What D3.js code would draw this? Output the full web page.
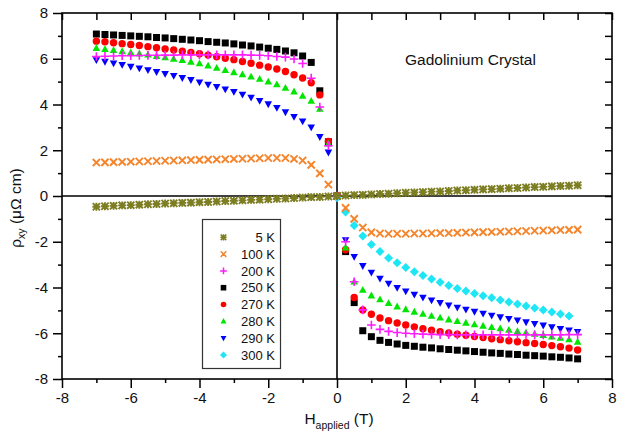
<!DOCTYPE html>
<html>
<head>
<meta charset="utf-8">
<script src="https://cdn.jsdelivr.net/npm/d3@7/dist/d3.min.js"></script>
<style>
  body { margin: 0; background: #fff; }
  text { font-family: "Liberation Sans", Arial, Helvetica, sans-serif; fill: #111; }
</style>
</head>
<body>
<svg id="chart" width="617" height="431"></svg>
<script>
// Applied field (T)
const fieldT = [-7,-6.75,-6.5,-6.25,-6,-5.75,-5.5,-5.25,-5,-4.75,-4.5,-4.25,-4,-3.75,-3.5,-3.25,-3,-2.75,-2.5,-2.25,-2,-1.75,-1.5,-1.25,-1,-0.75,-0.5,-0.25,
  0,
  0.25,0.5,0.75,1,1.25,1.5,1.75,2,2.25,2.5,2.75,3,3.25,3.5,3.75,4,4.25,4.5,4.75,5,5.25,5.5,5.75,6,6.25,6.5,6.75,7];

// Hall resistivity rho_xy (micro-ohm cm) at each temperature
const rho5K = [-0.47,-0.45,-0.43,-0.41,-0.40,-0.38,-0.36,-0.35,-0.33,-0.32,-0.30,-0.29,-0.27,-0.26,-0.24,-0.22,-0.21,-0.19,-0.17,-0.16,-0.14,-0.12,-0.11,-0.09,-0.07,-0.05,-0.04,-0.02,
  0,
  0.02,0.04,0.05,0.07,0.09,0.10,0.12,0.14,0.15,0.17,0.19,0.20,0.22,0.24,0.25,0.27,0.29,0.30,0.32,0.34,0.35,0.37,0.39,0.40,0.42,0.44,0.45,0.47];
const rho100K = [1.46,1.47,1.48,1.49,1.50,1.51,1.52,1.53,1.54,1.55,1.56,1.57,1.58,1.59,1.60,1.61,1.62,1.63,1.64,1.65,1.66,1.66,1.66,1.62,1.55,1.36,0.99,0.50,
  0,
  -0.52,-1.00,-1.38,-1.59,-1.64,-1.65,-1.65,-1.65,-1.64,-1.64,-1.63,-1.62,-1.62,-1.61,-1.60,-1.59,-1.58,-1.57,-1.56,-1.55,-1.54,-1.53,-1.52,-1.51,-1.50,-1.49,-1.48,-1.47];
const rho200K = [6.10,6.11,6.12,6.13,6.13,6.14,6.15,6.15,6.16,6.16,6.17,6.17,6.17,6.17,6.17,6.17,6.17,6.17,6.16,6.15,6.13,6.10,6.07,5.99,5.79,5.15,3.89,2.20,
  0,
  -2.00,-3.75,-4.98,-5.64,-5.83,-5.92,-5.97,-6.00,-6.02,-6.04,-6.05,-6.06,-6.06,-6.07,-6.07,-6.07,-6.07,-6.07,-6.07,-6.07,-6.07,-6.07,-6.07,-6.07,-6.07,-6.07,-6.06,-6.06];
const rho250K = [7.08,7.06,7.04,7.02,7.00,6.98,6.96,6.93,6.91,6.88,6.85,6.82,6.79,6.75,6.72,6.69,6.65,6.60,6.56,6.51,6.46,6.41,6.34,6.26,6.12,5.84,4.60,2.37,
  0,
  -2.43,-4.66,-5.89,-6.15,-6.31,-6.40,-6.47,-6.53,-6.57,-6.61,-6.64,-6.68,-6.71,-6.74,-6.77,-6.80,-6.83,-6.86,-6.88,-6.91,-6.93,-6.96,-6.98,-7.00,-7.03,-7.05,-7.08,-7.12];
const rho270K = [6.77,6.74,6.70,6.66,6.62,6.58,6.53,6.48,6.43,6.38,6.33,6.28,6.22,6.16,6.09,6.02,5.96,5.88,5.80,5.72,5.64,5.55,5.44,5.30,5.16,4.95,4.42,2.38,
  0,
  -2.35,-4.44,-4.98,-5.17,-5.33,-5.45,-5.55,-5.64,-5.72,-5.80,-5.87,-5.93,-5.99,-6.04,-6.09,-6.14,-6.19,-6.24,-6.28,-6.33,-6.37,-6.41,-6.45,-6.49,-6.54,-6.59,-6.65,-6.73];
const rho280K = [6.46,6.41,6.37,6.32,6.27,6.22,6.17,6.11,6.05,5.99,5.93,5.86,5.79,5.69,5.59,5.49,5.40,5.31,5.21,5.11,4.99,4.87,4.72,4.56,4.37,4.15,3.80,2.28,
  0,
  -2.26,-3.75,-4.11,-4.36,-4.53,-4.69,-4.84,-4.96,-5.07,-5.16,-5.25,-5.33,-5.41,-5.48,-5.55,-5.62,-5.68,-5.74,-5.80,-5.86,-5.92,-5.97,-6.03,-6.09,-6.15,-6.21,-6.28,-6.38];
const rho290K = [5.95,5.88,5.81,5.74,5.66,5.59,5.51,5.43,5.35,5.26,5.17,5.08,4.98,4.88,4.78,4.67,4.56,4.44,4.31,4.17,4.02,3.86,3.67,3.47,3.27,3.01,2.59,1.91,
  0,
  -1.92,-2.65,-3.05,-3.34,-3.60,-3.82,-4.01,-4.16,-4.30,-4.43,-4.55,-4.66,-4.77,-4.87,-4.96,-5.05,-5.13,-5.22,-5.29,-5.36,-5.43,-5.51,-5.58,-5.65,-5.73,-5.80,-5.87,-5.93];
const rho300K = [null,null,null,null,null,null,null,null,null,null,null,null,null,null,null,null,null,null,null,null,null,null,null,null,null,null,null,null,
  -0.08,
  -0.70,-1.29,-1.75,-2.12,-2.43,-2.71,-2.92,-3.13,-3.31,-3.48,-3.63,-3.77,-3.91,-4.04,-4.15,-4.26,-4.36,-4.45,-4.55,-4.63,-4.72,-4.81,-4.90,-4.98,-5.07,-5.16,-5.25,null];

const tempLabels = ["5 K", "100 K", "200 K", "250 K", "270 K", "280 K", "290 K", "300 K"];
const xTicks = [-8, -6, -4, -2, 0, 2, 4, 6, 8];
const yTicks = [-8, -6, -4, -2, 0, 2, 4, 6, 8];
const chartTitle = "Gadolinium Crystal";

// marker styles, one per temperature
const markerShapes = ["asterisk", "cross", "plus", "square", "circle", "triUp", "triDown", "diamond"];
const markerColors = ["#7d7d22", "#f5842a", "#ff1aff", "#000000", "#ff0000", "#00e600", "#0000ff", "#1ee6f5"];

(function () {
const series = [rho5K, rho100K, rho200K, rho250K, rho270K, rho280K, rho290K, rho300K].map((vals, i) => ({
  label: tempLabels[i],
  shape: markerShapes[i],
  color: markerColors[i],
  points: fieldT.map((h, j) => ({ h, r: vals[j] })).filter(d => d.r !== null)
}));

const svg = d3.select("#chart");
const pLeft = 62, pRight = 612, pTop = 13, pBottom = 379;
const x = d3.scaleLinear().domain([-8, 8]).range([pLeft, pRight]);
const y = d3.scaleLinear().domain([-8, 8]).range([pBottom, pTop]);

function markerPath(shape, r) {
  switch (shape) {
    case "square": return `M${-r},${-r}H${r}V${r}H${-r}Z`;
    case "circle": return `M${r},0A${r},${r} 0 1,1 ${-r},0A${r},${r} 0 1,1 ${r},0Z`;
    case "triUp": return `M0,${-r * 1.15}L${r * 1.05},${r * 0.75}L${-r * 1.05},${r * 0.75}Z`;
    case "triDown": return `M0,${r * 1.15}L${r * 1.05},${-r * 0.75}L${-r * 1.05},${-r * 0.75}Z`;
    case "diamond": return `M0,${-r * 1.25}L${r * 1.25},0L0,${r * 1.25}L${-r * 1.25},0Z`;
    case "plus": return `M${-r * 1.2},0H${r * 1.2}M0,${-r * 1.2}V${r * 1.2}`;
    case "cross": return `M${-r},${-r}L${r},${r}M${-r},${r}L${r},${-r}`;
    case "asterisk": return `M${-r},${-r}L${r},${r}M${-r},${r}L${r},${-r}M${-r * 1.1},0H${r * 1.1}M0,${-r * 1.1}V${r * 1.1}`;
  }
}
const stroked = s => s === "plus" || s === "cross" || s === "asterisk";

function drawMarker(sel, s, r, w) {
  sel.attr("d", markerPath(s.shape, r))
    .attr("fill", stroked(s.shape) ? "none" : s.color)
    .attr("stroke", stroked(s.shape) ? s.color : "none")
    .attr("stroke-width", stroked(s.shape) ? w : 0);
}

// axes: labelled major ticks outside on the bottom and left, plain ticks inside on top and right
function styleAxis(g) {
  g.select(".domain").remove();
  g.selectAll(".tick line").attr("stroke", "#000").attr("stroke-width", 1.5);
  g.selectAll(".tick text").attr("font-size", 15).attr("fill", "#111");
}
const minorVals = d3.range(-7, 8, 2);
const allVals = d3.range(-8, 9, 1);
const fmt = d => String(d);

svg.append("g").attr("transform", `translate(0,${pBottom})`)
  .call(d3.axisBottom(x).tickValues(xTicks).tickSize(9).tickPadding(4.5).tickFormat(fmt))
  .call(styleAxis);
svg.append("g").attr("transform", `translate(0,${pBottom})`)
  .call(d3.axisBottom(x).tickValues(minorVals).tickSize(4).tickFormat(""))
  .call(styleAxis);
svg.append("g").attr("transform", `translate(${pLeft},0)`)
  .call(d3.axisLeft(y).tickValues(yTicks).tickSize(9).tickPadding(5).tickFormat(fmt))
  .call(styleAxis);
svg.append("g").attr("transform", `translate(${pLeft},0)`)
  .call(d3.axisLeft(y).tickValues(minorVals).tickSize(4).tickFormat(""))
  .call(styleAxis);
svg.append("g").attr("transform", `translate(0,${pTop})`)
  .call(d3.axisTop(x).tickValues(allVals).tickSize(-7).tickFormat(""))
  .call(styleAxis);
svg.append("g").attr("transform", `translate(${pRight},0)`)
  .call(d3.axisRight(y).tickValues(allVals).tickSize(-7).tickFormat(""))
  .call(styleAxis);

// frame and zero lines
svg.append("rect").attr("x", pLeft).attr("y", pTop).attr("width", pRight - pLeft).attr("height", pBottom - pTop)
  .attr("fill", "none").attr("stroke", "#000").attr("stroke-width", 1.6);
svg.append("line").attr("x1", x(0)).attr("x2", x(0)).attr("y1", pTop).attr("y2", pBottom)
  .attr("stroke", "#000").attr("stroke-width", 1.6);
svg.append("line").attr("x1", pLeft).attr("x2", pRight).attr("y1", y(0)).attr("y2", y(0))
  .attr("stroke", "#000").attr("stroke-width", 1.6);

// data markers, drawn so the low-temperature sets sit on top
const drawOrder = [3, 4, 5, 6, 7, 2, 1, 0];
drawOrder.forEach(i => {
  const s = series[i];
  const r = s.shape === "circle" ? 3.7 : s.shape === "square" ? 3.5 : 3.6;
  svg.append("g").selectAll("path").data(s.points).join("path")
    .attr("transform", d => `translate(${x(d.h)},${y(d.r)})`)
    .call(sel => drawMarker(sel, s, r, s.shape === "plus" ? 1.6 : 1.9));
});

// legend
const lg = svg.append("g");
lg.append("rect").attr("x", 202.5).attr("y", 219.5).attr("width", 78).attr("height", 149)
  .attr("fill", "#fff").attr("stroke", "#333").attr("stroke-width", 1.2);
series.forEach((s, i) => {
  const cy = 237.3 + i * 16.8;
  lg.append("path").attr("transform", `translate(223.5,${cy})`).call(sel => drawMarker(sel, s, 2.8, 1.5));
  lg.append("text").attr("x", 275).attr("y", cy + 4.6).attr("text-anchor", "end")
    .attr("font-size", 13).text(s.label);
});

// annotation
svg.append("text").attr("x", 405).attr("y", 65).attr("font-size", 15.5).text(chartTitle);

// axis titles
const xt = svg.append("text").attr("x", 339).attr("y", 424).attr("text-anchor", "middle").attr("font-size", 15.5);
xt.append("tspan").text("H");
xt.append("tspan").attr("dy", 5).attr("font-size", 10.5).text("applied");
xt.append("tspan").attr("dy", -5).text(" (T)");

const yt = svg.append("text").attr("transform", "translate(21,208) rotate(-90)")
  .attr("text-anchor", "middle").attr("font-size", 15.5);
yt.append("tspan").text("ρ");
yt.append("tspan").attr("dy", 4).attr("font-size", 10.5).text("xy");
yt.append("tspan").attr("dy", -4).text(" (μΩ cm)");
})();
</script>
</body>
</html>
